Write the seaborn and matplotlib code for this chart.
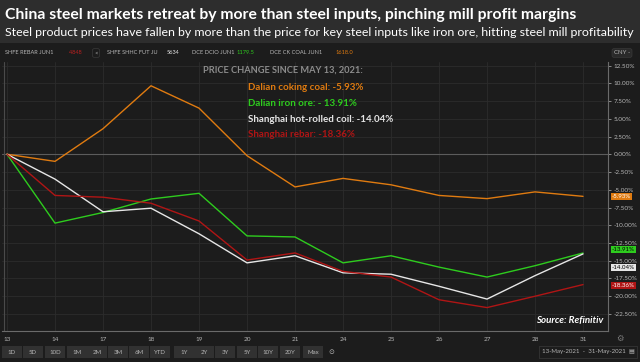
import numpy as np
import pandas as pd
import matplotlib
matplotlib.use("Agg")
import matplotlib.pyplot as plt
from matplotlib.patches import Rectangle
import matplotlib.transforms as mtransforms
import seaborn as sns

# trading days in May 2021
days = ["13", "14", "17", "18", "19", "20", "21", "24", "25", "26", "27", "28", "31"]

# % change since May 13
coking_coal = [0.0, -1.0, 3.6, 9.65, 6.5, -0.2, -4.6, -3.4, -4.3, -5.8, -6.25, -5.3, -5.93]
iron_ore = [0.0, -9.7, -8.2, -6.3, -5.5, -11.5, -11.65, -15.3, -14.3, -15.9, -17.3, -15.7, -13.91]
hot_rolled = [0.0, -3.5, -8.1, -7.6, -11.2, -15.3, -14.3, -16.7, -16.9, -18.6, -20.4, -17.1, -14.04]
rebar = [0.0, -5.8, -6.05, -6.9, -9.4, -14.9, -13.9, -16.5, -17.3, -20.5, -21.6, -20.0, -18.36]

series_names = ["Dalian coking coal", "Dalian iron ore", "Shanghai hot-rolled coil", "Shanghai rebar"]
series_vals = [coking_coal, iron_ore, hot_rolled, rebar]
colors = ["#e07b10", "#2ecc1e", "#e6e6e6", "#b01515"]
legend_text = ["Dalian coking coal: -5.93%", "Dalian iron ore: - 13.91%",
               "Shanghai hot-rolled coil: -14.04%", "Shanghai rebar: -18.36%"]
last_labels = ["-5.93%", "-13.91%", "-14.04%", "-18.36%"]

yticks = np.arange(-22.5, 12.51, 2.5)
buttons = ["1D", "5D", "10D", "1M", "2M", "3M", "6M", "YTD", "1Y", "2Y", "3Y", "5Y", "10Y", "20Y", "Max"]

rows = []
for name, vals in zip(series_names, series_vals):
    for i, v in enumerate(vals):
        rows.append({"pos": i, "series": name, "pct": v})
df = pd.DataFrame(rows)

sns.set_theme(style="dark")
plt.rcParams["font.family"] = ["Lato", "DejaVu Sans"]

W, H = 640, 362
fig = plt.figure(figsize=(6.4, 3.62), dpi=100, facecolor="#1c1c1c")

# header band
fig.patches.append(Rectangle((0, 1 - 43 / H), 1, 43 / H, transform=fig.transFigure,
                             facecolor="#2d2d2d", edgecolor="none", zorder=0))
fig.text(5 / W, 1 - 15 / H, "China steel markets retreat by more than steel inputs, pinching mill profit margins",
         color="white", fontsize=11.3, fontweight="bold", va="center", ha="left")
fig.text(5 / W, 1 - 32 / H, "Steel product prices have fallen by more than the price for key steel inputs like iron ore, hitting steel mill profitability",
         color="white", fontsize=8.9, va="center", ha="left")

ax = fig.add_axes([2 / W, 1 - 331 / H, 606 / W, (331 - 62) / H])
ax.set_facecolor("#1c1c1c")

sns.lineplot(data=df, x="pos", y="pct", hue="series", palette=colors,
             hue_order=series_names, linewidth=1.0, ax=ax, legend=False)

ax.set_xlim(-0.104, 12.52)
ax.set_ylim(-24.9, 13.0)
ax.set_xticks(range(len(days)))
ax.set_xticklabels(days)
ax.set_yticks(yticks)
ax.set_yticklabels([f"{v:.2f}%" for v in yticks])
ax.yaxis.tick_right()
ax.tick_params(axis="y", colors="#b5b5b5", labelsize=4.6, length=2, width=0.5, pad=2, right=True)
ax.tick_params(axis="x", colors="#b5b5b5", labelsize=4.6, length=0, pad=4)
ax.set_xlabel("")
ax.set_ylabel("")
ax.grid(True, color="#2c2c2c", linewidth=0.6)
ax.axhline(0, color="#5c5c5c", linewidth=0.8, zorder=1)
for s in ["top", "left"]:
    ax.spines[s].set_visible(False)
ax.spines["right"].set_color("#6a6a6a")
ax.spines["right"].set_linewidth(0.8)
ax.spines["bottom"].set_color("#6a6a6a")
ax.spines["bottom"].set_linewidth(0.8)
ax.axvline(-0.06, color="#4a4a4a", linewidth=0.8)

# right-hand value tags
trans = mtransforms.blended_transform_factory(ax.transAxes, ax.transData)
tag_shift = [0.0, 0.45, -1.9, -0.1]
tag_text = ["white", "black", "black", "white"]
for vals, c, lab, sh, tc in zip(series_vals, colors, last_labels, tag_shift, tag_text):
    ax.text(1.006, vals[-1] + sh, lab, transform=trans, fontsize=4.4, color=tc,
            va="center", ha="left", clip_on=False,
            bbox=dict(boxstyle="square,pad=0.18", facecolor=c, edgecolor="none"))

# annotation block
fig.text(283 / W, 1 - 70 / H, "PRICE CHANGE SINCE MAY 13, 2021:", color="#8c8c8c",
         fontsize=6.7, fontweight="bold", ha="center", va="center")
for k, (t, c) in enumerate(zip(legend_text, colors)):
    fig.text(248 / W, 1 - (88 + k * 15.5) / H, t, color=c, fontsize=7.0,
             fontweight="bold", ha="left", va="center")

fig.text(603 / W, 1 - 320 / H, "Source: Refinitiv", color="white", fontsize=7,
         fontweight="bold", style="italic", ha="right", va="center")

# instrument strip
strip = [("SHFE REBAR JUN1", "#b5b5b5", 5), ("4848", "#c02020", 69),
         ("SHFE SHHC FUT JU", "#b5b5b5", 107), ("5634", "#e6e6e6", 167),
         ("DCE DCIO JUN1", "#b5b5b5", 192), ("1179.5", "#2ecc1e", 236),
         ("DCE CK COAL JUN1", "#b5b5b5", 270), ("1618.0", "#e07b10", 335)]
for t, c, x in strip:
    fig.text(x / W, 1 - 53 / H, t, color=c, fontsize=4.1, ha="left", va="center")
fig.text(96 / W, 1 - 53 / H, "<", color="#b5b5b5", fontsize=4.4, ha="center", va="center",
         bbox=dict(boxstyle="round,pad=0.3", facecolor="#1c1c1c", edgecolor="#3a3a3a", linewidth=0.5))
fig.text(622 / W, 1 - 53 / H, "CNY -", color="#b5b5b5", fontsize=4.4, ha="center", va="center",
         bbox=dict(boxstyle="round,pad=0.3", facecolor="#2a2a2a", edgecolor="#3a3a3a", linewidth=0.5))
fig.text(620 / W, 1 - 338 / H, "\u2699", color="#7a7a7a", fontsize=6, ha="center", va="center",
         family="DejaVu Sans")

# toolbar row
bx = [12, 33, 55, 77, 97, 118, 139, 160, 184, 204, 225, 247, 268, 290, 313]
for b, x in zip(buttons, bx):
    fig.patches.append(Rectangle(((x - 10) / W, 1 - 358 / H), 19.5 / W, 12 / H,
                                 transform=fig.transFigure, facecolor="#313131", edgecolor="none"))
    fig.text(x / W, 1 - 352 / H, b, color="#b5b5b5", fontsize=4.4, ha="center", va="center")
fig.text(331 / W, 1 - 352 / H, "\u2299", color="#b5b5b5", fontsize=5, ha="center", va="center",
         family="DejaVu Sans")
fig.text(588 / W, 1 - 352 / H, "13-May-2021  -  31-May-2021  \u25a4", color="#b5b5b5", fontsize=4.4,
         ha="center", va="center", family=["Lato", "DejaVu Sans"],
         bbox=dict(boxstyle="square,pad=0.5", facecolor="#1c1c1c", edgecolor="#3a3a3a", linewidth=0.5))

fig.savefig("out.png", dpi=100, facecolor=fig.get_facecolor())
